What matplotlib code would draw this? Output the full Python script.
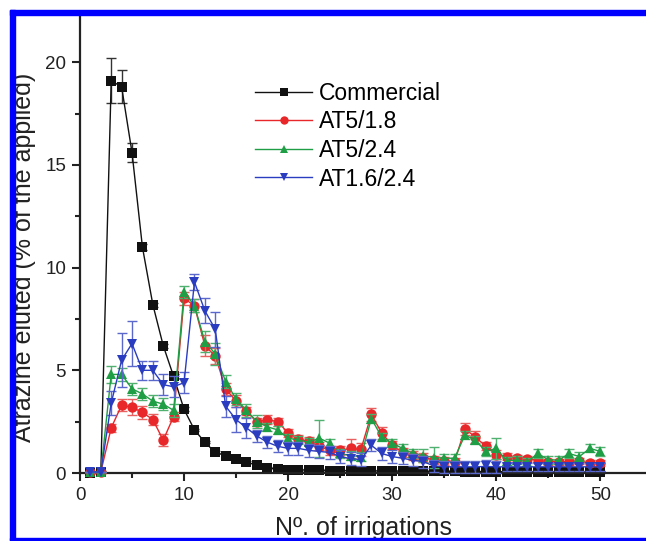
import matplotlib
matplotlib.use("Agg")
import matplotlib.pyplot as plt
from matplotlib.patches import Rectangle
from matplotlib.ticker import MultipleLocator

plt.rcParams['font.family'] = ['Liberation Sans', 'DejaVu Sans']

irrigations = list(range(1, 51))

commercial = [0.0, 0.05, 19.1, 18.8, 15.6, 11.0, 8.2, 6.2, 4.7, 3.1,
              2.1, 1.5, 1.0, 0.85, 0.67, 0.53, 0.38, 0.25, 0.2, 0.17,
              0.15, 0.14, 0.13, 0.12, 0.12, 0.11, 0.1, 0.1, 0.1, 0.09,
              0.09, 0.09, 0.08, 0.08, 0.08, 0.08, 0.07, 0.07, 0.07, 0.07,
              0.06, 0.06, 0.06, 0.06, 0.05, 0.05, 0.05, 0.05, 0.05, 0.05]
commercial_err = [0, 0, 1.1, 0.8, 0.45, 0.15, 0.1, 0.1, 0.1, 0.1,
                  0.05, 0.05, 0.05, 0.05, 0.05, 0.05, 0.05, 0.05, 0.05, 0.05,
                  0.05, 0.05, 0.05, 0.05, 0.05, 0.05, 0.05, 0.05, 0.05, 0.05,
                  0.05, 0.05, 0.05, 0.05, 0.05, 0.05, 0.05, 0.05, 0.05, 0.05,
                  0.05, 0.05, 0.05, 0.05, 0.05, 0.05, 0.05, 0.05, 0.05, 0.05]

at5_18 = [0.05, 0.05, 2.2, 3.3, 3.2, 2.95, 2.6, 1.6, 2.75, 8.5,
          8.15, 6.2, 5.7, 4.1, 3.5, 3.0, 2.5, 2.6, 2.5, 1.95,
          1.65, 1.55, 1.3, 1.1, 1.1, 1.2, 1.15, 2.85, 1.95, 1.35,
          1.0, 0.85, 0.75, 0.65, 0.6, 0.55, 2.15, 1.75, 1.3, 0.9,
          0.8, 0.75, 0.7, 0.62, 0.55, 0.55, 0.55, 0.58, 0.5, 0.5]
at5_18_err = [0, 0, 0.2, 0.3, 0.4, 0.3, 0.25, 0.3, 0.2, 0.3,
              0.3, 0.5, 0.4, 0.3, 0.3, 0.2, 0.2, 0.2, 0.2, 0.2,
              0.2, 0.2, 0.2, 0.2, 0.2, 0.45, 0.3, 0.3, 0.3, 0.2,
              0.2, 0.2, 0.2, 0.2, 0.2, 0.2, 0.3, 0.3, 0.2, 0.2,
              0.15, 0.15, 0.15, 0.15, 0.15, 0.15, 0.15, 0.15, 0.15, 0.15]

at5_24 = [0.05, 0.05, 4.8, 4.8, 4.1, 3.85, 3.5, 3.35, 3.05, 8.8,
          8.15, 6.4, 5.8, 4.45, 3.6, 3.05, 2.5, 2.25, 2.1, 1.7,
          1.6, 1.5, 1.7, 1.45, 0.95, 0.85, 0.8, 2.65, 1.75, 1.45,
          1.2, 0.95, 0.85, 0.75, 0.72, 0.72, 1.85, 1.6, 1.05, 1.2,
          0.6, 0.63, 0.55, 0.95, 0.65, 0.62, 0.95, 0.8, 1.2, 1.05]
at5_24_err = [0, 0, 0.4, 0.3, 0.3, 0.3, 0.3, 0.3, 0.3, 0.3,
              0.3, 0.5, 0.55, 0.3, 0.3, 0.3, 0.3, 0.2, 0.2, 0.2,
              0.2, 0.2, 0.9, 0.2, 0.2, 0.2, 0.2, 0.2, 0.2, 0.2,
              0.2, 0.2, 0.3, 0.5, 0.2, 0.2, 0.2, 0.2, 0.2, 0.5,
              0.2, 0.2, 0.2, 0.2, 0.2, 0.2, 0.2, 0.2, 0.2, 0.2]

at16_24 = [0.05, 0.05, 3.4, 5.5, 6.3, 5.0, 5.0, 4.3, 4.2, 4.4,
           9.3, 7.9, 7.0, 3.25, 2.6, 2.2, 1.8, 1.5, 1.3, 1.2,
           1.2, 1.1, 1.05, 1.0, 0.8, 0.7, 0.65, 1.35, 0.95, 0.8,
           0.72, 0.62, 0.55, 0.35, 0.3, 0.3, 0.3, 0.3, 0.32, 0.3,
           0.3, 0.3, 0.3, 0.3, 0.3, 0.3, 0.3, 0.3, 0.3, 0.3]
at16_24_err = [0, 0, 0.6, 1.3, 1.1, 0.45, 0.45, 0.5, 0.5, 0.5,
               0.4, 0.6, 0.85, 0.5, 0.6, 0.5, 0.3, 0.3, 0.3, 0.3,
               0.3, 0.3, 0.3, 0.3, 0.3, 0.3, 0.3, 0.3, 0.3, 0.3,
               0.3, 0.3, 0.3, 0.3, 0.3, 0.3, 0.3, 0.3, 0.3, 0.3,
               0.2, 0.2, 0.2, 0.2, 0.2, 0.2, 0.2, 0.2, 0.2, 0.2]

labels = ['Commercial', 'AT5/1.8', 'AT5/2.4', 'AT1.6/2.4']
colors = ['#111111', '#e8272a', '#1f9e45', '#2a3cc0']
ecolors = ['#333333', '#e86060', '#50b070', '#5a68cc']
markers = ['s', 'o', '^', 'v']
msizes = [6.5, 7.5, 7.5, 7.5]

W, H = 646, 541
fig = plt.figure(figsize=(W / 100, H / 100), dpi=100)
ax = fig.add_axes([80 / W, 68 / H, 566 / W, 458 / H])

series = [(commercial, commercial_err), (at5_18, at5_18_err),
          (at5_24, at5_24_err), (at16_24, at16_24_err)]
for i, (vals, errs) in enumerate(series):
    ax.errorbar(irrigations, vals, yerr=errs, fmt='none', ecolor=ecolors[i],
                elinewidth=1.0, capsize=3.5, capthick=1.0, zorder=2 + i, clip_on=False)
    ax.plot(irrigations, vals, color=colors[i], lw=1.0, marker=markers[i],
            markersize=msizes[i], markeredgewidth=0, zorder=2.5 + i, clip_on=False)

ax.set_xlim(0, 54.4)
ax.set_ylim(0, 22.3)
ax.xaxis.set_major_locator(MultipleLocator(10))
ax.xaxis.set_minor_locator(MultipleLocator(5))
ax.yaxis.set_major_locator(MultipleLocator(5))
ax.yaxis.set_minor_locator(MultipleLocator(2.5))
for s in ['top', 'right']:
    ax.spines[s].set_visible(False)
for s in ['left', 'bottom']:
    ax.spines[s].set_linewidth(1.6)
    ax.spines[s].set_color('#222222')
ax.tick_params(which='major', direction='out', length=6, width=1.5, color='#222222',
               labelsize=13.5, labelcolor='#222222', pad=4)
ax.tick_params(which='minor', direction='out', length=3.5, width=1.5, color='#222222')

leg_handles = []
for i in range(4):
    h, = ax.plot([], [], color=colors[i], lw=1.0, marker=markers[i], markersize=6,
                 markeredgewidth=0)
    leg_handles.append(h)
ax.legend(leg_handles, labels, loc='upper left',
          bbox_to_anchor=((255 - 80) / 566, (541 - 82 - 68) / 458),
          frameon=False, fontsize=16.5, handlelength=2.5, handletextpad=0.3,
          labelspacing=0.24, borderpad=0, borderaxespad=0)

fig.text(24 / W, 1 - 257 / H, 'Atrazine eluted (% of the applied)', rotation=90,
         ha='center', va='center', fontsize=18, color='#222222')
fig.text(363 / W, 6 / H, 'Nº. of irrigations', ha='center', va='baseline',
         fontsize=18, color='#222222')

blue = '#0000ff'
fig.add_artist(Rectangle((10 / W, 0), 5 / W, (H - 10) / H, transform=fig.transFigure,
                         color=blue, zorder=10))
fig.add_artist(Rectangle((10 / W, (H - 15) / H), (W - 10) / W, 5 / H, transform=fig.transFigure,
                         color=blue, zorder=10))
fig.add_artist(Rectangle((10 / W, 1 / H), (W - 10) / W, 2 / H, transform=fig.transFigure,
                         color=blue, zorder=10))

fig.savefig('out.png', dpi=100)
